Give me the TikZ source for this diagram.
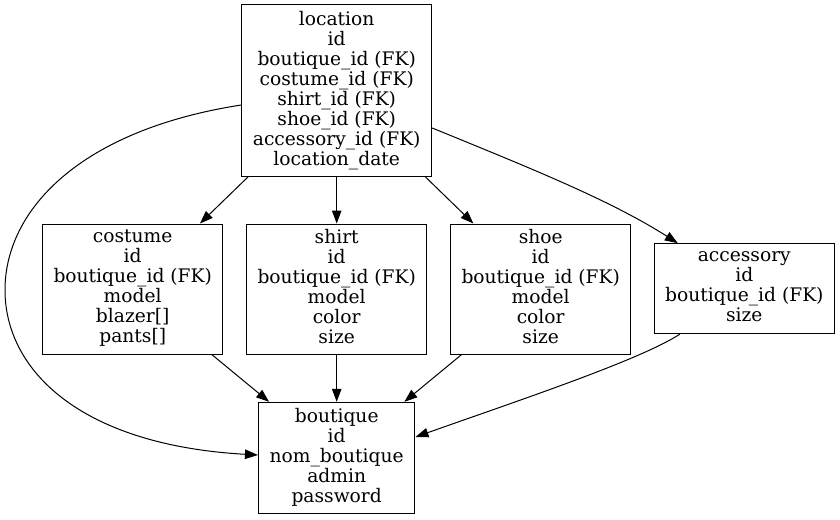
\documentclass[tikz,border=0pt]{standalone}
\usepackage{fontspec}
\setmainfont{DejaVu Serif}
\usetikzlibrary{arrows.meta,calc}
\begin{document}
\begin{tikzpicture}[x=1pt,y=-1pt,
  tbl/.style={draw=black,line width=1pt,rectangle,inner sep=0pt,align=center,
    font=\fontsize{18.67}{20}\selectfont,
    execute at begin node={\rule{0pt}{21pt}},execute at end node={\rule[-5pt]{0pt}{5pt}}},
  edge/.style={line width=1pt,-{Triangle[length=13pt,width=9.5pt]}}]
\useasboundingbox (0,0) rectangle (840,519);
\node[tbl,minimum width=190pt,minimum height=171pt] (location) at (336.7,90.5)
  {location\\id\\boutique\_id (FK)\\costume\_id (FK)\\shirt\_id (FK)\\shoe\_id (FK)\\accessory\_id (FK)\\location\_date};
\node[tbl,minimum width=180pt,minimum height=130pt] (costume) at (132.7,289)
  {costume\\id\\boutique\_id (FK)\\model\\blazer[]\\pants[]};
\node[tbl,minimum width=180pt,minimum height=130pt] (shirt) at (336.7,289)
  {shirt\\id\\boutique\_id (FK)\\model\\color\\size};
\node[tbl,minimum width=180pt,minimum height=130pt] (shoe) at (540.7,289)
  {shoe\\id\\boutique\_id (FK)\\model\\color\\size};
\node[tbl,minimum width=180pt,minimum height=90pt] (accessory) at (744.3,288.7)
  {accessory\\id\\boutique\_id (FK)\\size};
\node[tbl,minimum width=156.5pt,minimum height=111pt] (boutique) at (336.7,457.8)
  {boutique\\id\\nom\_boutique\\admin\\password};
\draw[edge] (location) -- (costume);
\draw[edge] (location) -- (shirt);
\draw[edge] (location) -- (shoe);
\draw[edge] ($(location.east)+(0,37.5)$) .. controls (530,168) and (610,200) .. ($(accessory.north west)+(24,0)$);
\draw[edge] ($(location.west)+(0,14.5)$) .. controls (80,130) and (5,210) .. (5,290)
  .. controls (5,370) and (80,445) .. ($(boutique.west)+(0,-2.8)$);
\draw[edge] (costume) -- (boutique);
\draw[edge] (shirt) -- (boutique);
\draw[edge] (shoe) -- (boutique);
\draw[edge] ($(accessory.south west)+(26,0)$) .. controls (640,360) and (520,400) .. ($(boutique.east)+(0,-20.8)$);
\end{tikzpicture}
\end{document}
